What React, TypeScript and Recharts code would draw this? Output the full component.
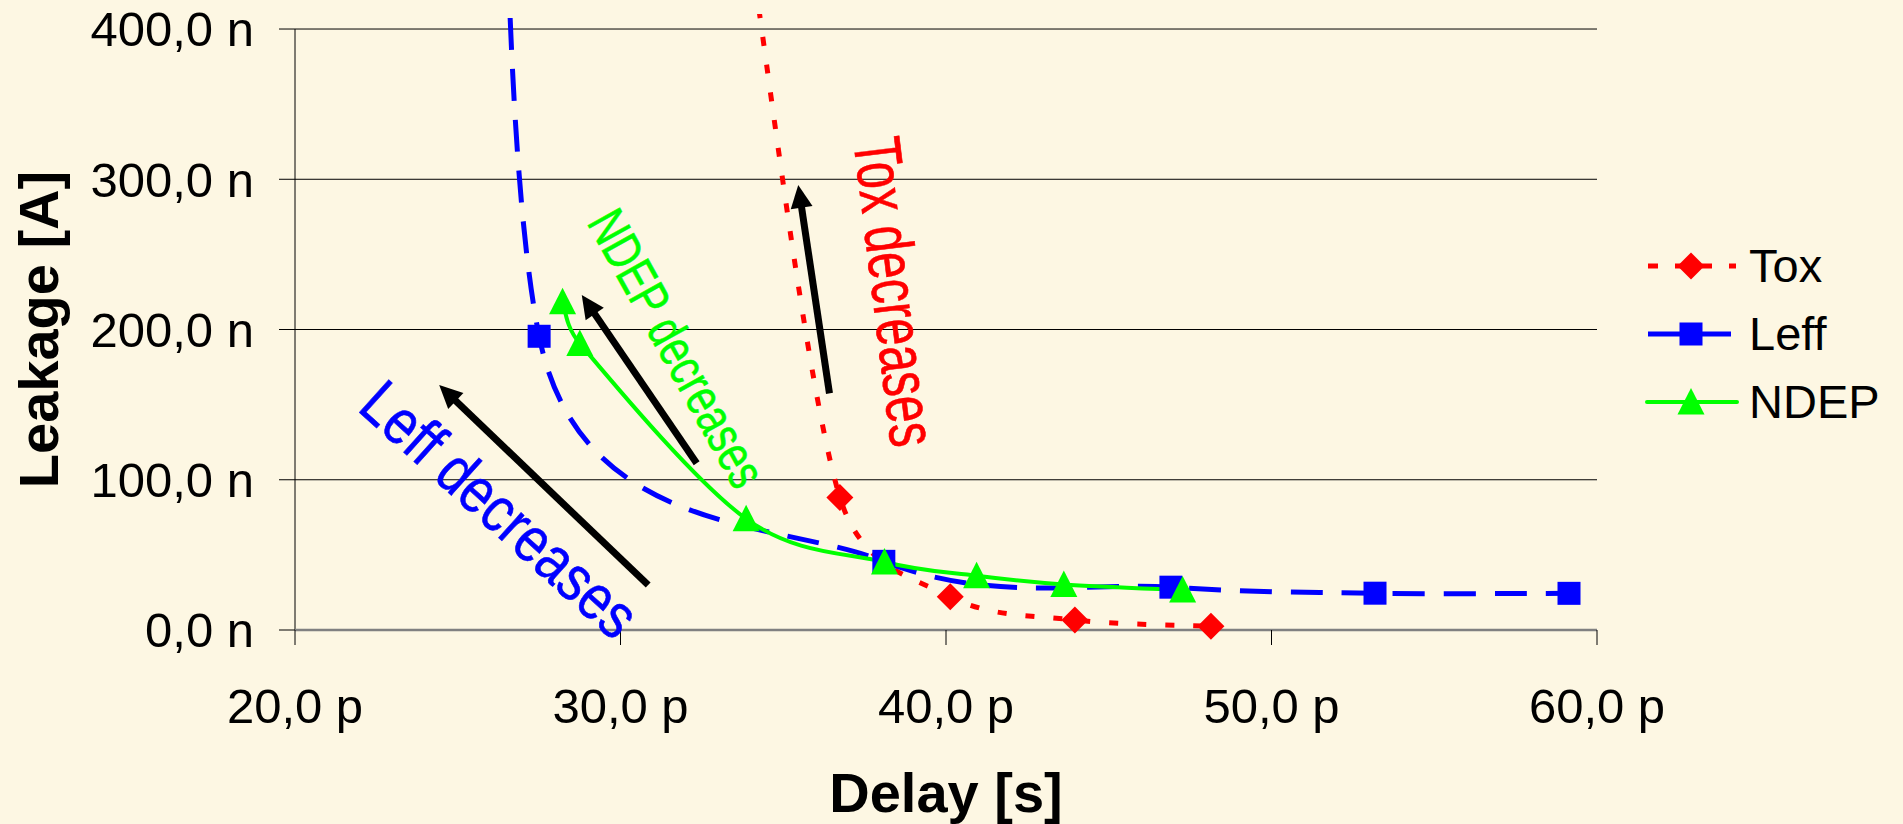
import React from "react";
import { LineChart, Line, XAxis, YAxis, CartesianGrid, ReferenceLine, ReferenceDot, Legend } from "recharts";

// delay in ps, leakage in nA. The first Tox and Leff points sit above the plotted range.
const toxDelay = [34.0, 36.74, 40.13, 43.96, 48.14];
const toxLeakage = [450, 88.2, 22.2, 6.7, 2.5];
const leffDelay = [26.6, 27.5, 38.09, 46.91, 53.18, 59.14];
const leffLeakage = [1290, 195.5, 45.7, 28.5, 24.5, 24.4];
const ndepDelay = [28.22, 28.75, 33.86, 38.11, 40.94, 43.62, 47.27];
const ndepLeakage = [218.5, 190.7, 74.0, 45.3, 36.1, 30.3, 26.6];

const seriesNames = ["Tox", "Leff", "NDEP"];
const delayTicks = [20, 30, 40, 50, 60];
const leakageTicks = [0, 100, 200, 300, 400];
const leakageMax = 410;

// annotations (data coordinates)
const noteTexts = ["Leff decreases", "NDEP decreases", "Tox decreases"];
const noteDelay = [26.3, 31.74, 38.45];
const noteLeakage = [80.5, 187.6, 225.2];
const arrowTail = [[30.85, 29.9], [32.34, 111.0], [36.42, 157.5]];
const arrowHead = [[24.43, 163.0], [28.81, 223.0], [35.46, 296.2]];

const BG = "#FDF7E3";
const FONT = '"Liberation Sans", Arial, sans-serif';
const RED = "#FF0000";
const BLUE = "#0000FF";
const GREEN = "#00FF00";

const noteStyles = [
  { color: BLUE, angle: 42, size: 64, sx: 0.83 },
  { color: GREEN, angle: 61, size: 53, sx: 0.76 },
  { color: RED, angle: 83, size: 67, sx: 0.72 },
];

const toxData = toxDelay.map((d, i) => ({ delay: d, leak: toxLeakage[i] }));
const leffData = leffDelay.map((d, i) => ({ delay: d, leak: leffLeakage[i] }));
const ndepData = ndepDelay.map((d, i) => ({ delay: d, leak: ndepLeakage[i] }));
const inRange = (rows: { delay: number; leak: number }[]) => rows.filter((r) => r.leak <= leakageMax);

const fmt = (v: number) => v.toFixed(1).replace(".", ",");

// Excel-like smoothed line (bezier with 1/6 tension, arms capped at half segment)
const excelSmooth = (context: any) => {
  let pts: number[][] = [];
  return {
    areaStart() {},
    areaEnd() {},
    lineStart() {
      pts = [];
    },
    point(x: number, y: number) {
      pts.push([+x, +y]);
    },
    lineEnd() {
      const n = pts.length;
      if (!n) return;
      context.moveTo(pts[0][0], pts[0][1]);
      for (let i = 0; i < n - 1; i++) {
        const p0 = pts[Math.max(i - 1, 0)];
        const p1 = pts[i];
        const p2 = pts[i + 1];
        const p3 = pts[Math.min(i + 2, n - 1)];
        const d12 = Math.hypot(p2[0] - p1[0], p2[1] - p1[1]);
        const d02 = Math.hypot(p2[0] - p0[0], p2[1] - p0[1]) || 1;
        const d13 = Math.hypot(p3[0] - p1[0], p3[1] - p1[1]) || 1;
        const f0 = d02 / 6 < d12 / 2 ? 1 / 6 : d12 / (2 * d02);
        const f1 = d13 / 6 < d12 / 2 ? 1 / 6 : d12 / (2 * d13);
        context.bezierCurveTo(
          p1[0] + f0 * (p2[0] - p0[0]),
          p1[1] + f0 * (p2[1] - p0[1]),
          p2[0] - f1 * (p3[0] - p1[0]),
          p2[1] - f1 * (p3[1] - p1[1]),
          p2[0],
          p2[1]
        );
      }
    },
  };
};

const markerShape = (kind: string, color: string, cx: number, cy: number) => {
  if (kind === "square") return <rect x={cx - 11.5} y={cy - 11.5} width={23} height={23} fill={color} />;
  if (kind === "diamond")
    return <polygon points={`${cx},${cy - 13.5} ${cx + 13.5},${cy} ${cx},${cy + 13.5} ${cx - 13.5},${cy}`} fill={color} />;
  return <polygon points={`${cx},${cy - 14} ${cx + 13.5},${cy + 12.5} ${cx - 13.5},${cy + 12.5}`} fill={color} />;
};

const Marker = (props: any) => {
  const { cx, cy, kind, color } = props;
  if (cx == null || cy == null) return null;
  return markerShape(kind, color, cx, cy);
};

const arrowShape = (p: any) => {
  const { x1, y1, x2, y2 } = p;
  const a = Math.atan2(y2 - y1, x2 - x1);
  const c = Math.cos(a);
  const s = Math.sin(a);
  const len = 23;
  const half = 11;
  const bx = x2 - c * len;
  const by = y2 - s * len;
  return (
    <g>
      <line x1={x1} y1={y1} x2={bx + c} y2={by + s} stroke="#000" strokeWidth={7} />
      <polygon points={`${x2},${y2} ${bx - s * half},${by + c * half} ${bx + s * half},${by - c * half}`} fill="#000" />
    </g>
  );
};

const noteShape = (i: number) => (p: any) => {
  const st = noteStyles[i];
  return (
    <text
      x={0}
      y={0}
      dy="0.35em"
      textAnchor="middle"
      fill={st.color}
      stroke={st.color}
      strokeWidth={0.6}
      fontSize={st.size}
      fontFamily={FONT}
      transform={`translate(${p.cx}, ${p.cy}) rotate(${st.angle}) scale(${st.sx}, 1)`}
    >
      {noteTexts[i]}
    </text>
  );
};

const xTitle = () => (
  <text x={946} y={812} textAnchor="middle" fontSize={56} fontWeight="bold" fontFamily={FONT} fill="#000">
    Delay [s]
  </text>
);

const yTitle = () => (
  <text
    x={58}
    y={329.5}
    textAnchor="middle"
    fontSize={56}
    fontWeight="bold"
    fontFamily={FONT}
    fill="#000"
    transform="rotate(-90, 58, 329.5)"
  >
    Leakage [A]
  </text>
);

const legendRows = [
  { name: seriesNames[0], color: RED, kind: "diamond", dash: "10 17", width: 5, x1: 8, x2: 96 },
  { name: seriesNames[1], color: BLUE, kind: "square", dash: undefined, width: 5, x1: 8, x2: 91 },
  { name: seriesNames[2], color: GREEN, kind: "triangle", dash: undefined, width: 4, x1: 7, x2: 97 },
];

const renderLegend = () => (
  <div style={{ fontFamily: FONT, fontSize: 47, color: "#000" }}>
    {legendRows.map((r) => (
      <div key={r.name} style={{ display: "flex", alignItems: "center", height: 68 }}>
        <svg width={100} height={40} style={{ display: "block" }}>
          <line x1={r.x1} x2={r.x2} y1={20} y2={20} stroke={r.color} strokeWidth={r.width} strokeDasharray={r.dash} strokeLinecap={r.kind === "triangle" ? "round" : "butt"} />
          {markerShape(r.kind, r.color, 51, 20)}
        </svg>
        <span style={{ marginLeft: 9, lineHeight: "68px" }}>{r.name}</span>
      </div>
    ))}
  </div>
);

const tickStyle = { fontSize: 49, fill: "#000", fontFamily: FONT };

const lineSeries = [
  { name: seriesNames[0], data: toxData, color: RED, width: 5, dash: "9 19", kind: "diamond" },
  { name: seriesNames[1], data: leffData, color: BLUE, width: 5, dash: "32 19", kind: "square" },
  { name: seriesNames[2], data: ndepData, color: GREEN, width: 4, dash: undefined, kind: "triangle" },
];

export default function App() {
  return (
    <div style={{ position: "absolute", left: 0, top: 0, width: 1903, height: 824, background: BG, fontFamily: FONT }}>
      <LineChart width={1903} height={824} margin={{ top: 14, right: 306, bottom: 0, left: 0 }}>
        <CartesianGrid vertical={false} horizontalValues={leakageTicks} stroke="#000" strokeWidth={1} />
        <XAxis
          type="number"
          dataKey="delay"
          domain={[20, 60]}
          ticks={delayTicks}
          interval={0}
          tickFormatter={(v: number) => `${fmt(v)} p`}
          tick={tickStyle}
          tickSize={15}
          tickMargin={43}
          axisLine={{ stroke: "#808080", strokeWidth: 2.5 }}
          tickLine={{ stroke: "#000", strokeWidth: 1 }}
          height={194}
          label={xTitle}
        />
        <YAxis
          type="number"
          domain={[0, leakageMax]}
          allowDataOverflow
          ticks={leakageTicks}
          interval={0}
          tickFormatter={(v: number) => `${fmt(v)} n`}
          tick={tickStyle}
          tickSize={16}
          tickMargin={25}
          axisLine={false}
          tickLine={{ stroke: "#000", strokeWidth: 1 }}
          width={295}
          label={yTitle}
        />
        {/* same scale, no clipping: used for the markers so they can overlap the axis */}
        <YAxis yAxisId="markers" type="number" domain={[0, leakageMax]} hide />
        <ReferenceLine segment={[{ x: 20, y: 0 }, { x: 20, y: 400 }]} stroke="#000" strokeWidth={1} />
        <Legend
          content={renderLegend}
          layout="horizontal"
          verticalAlign="middle"
          align="center"
          wrapperStyle={{ left: 1640, top: 232, width: 263, height: 204 }}
        />
        {lineSeries.map((s) => (
          <Line
            key={`line-${s.name}`}
            data={s.data}
            dataKey="leak"
            name={s.name}
            type={excelSmooth as any}
            stroke={s.color}
            strokeWidth={s.width}
            strokeDasharray={s.dash}
            dot={false}
            activeDot={false}
            legendType="none"
            isAnimationActive={false}
          />
        ))}
        {lineSeries.map((s) => (
          <Line
            key={`marks-${s.name}`}
            yAxisId="markers"
            data={inRange(s.data)}
            dataKey="leak"
            name={`${s.name} markers`}
            stroke="none"
            dot={<Marker kind={s.kind} color={s.color} />}
            activeDot={false}
            legendType="none"
            isAnimationActive={false}
          />
        ))}
        {arrowTail.map((t, i) => (
          <ReferenceLine
            key={`arrow-${i}`}
            segment={[
              { x: t[0], y: t[1] },
              { x: arrowHead[i][0], y: arrowHead[i][1] },
            ]}
            shape={arrowShape}
          />
        ))}
        {noteTexts.map((_, i) => (
          <ReferenceDot key={`note-${i}`} x={noteDelay[i]} y={noteLeakage[i]} r={0} shape={noteShape(i)} />
        ))}
      </LineChart>
    </div>
  );
}
